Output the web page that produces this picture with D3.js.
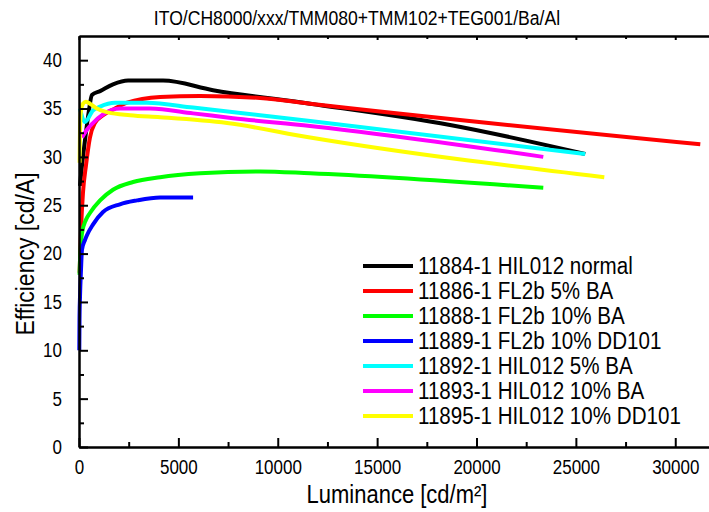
<!DOCTYPE html>
<html>
<head>
<meta charset="utf-8">
<script src="https://cdn.jsdelivr.net/npm/d3@7/dist/d3.min.js"></script>
<style>
  body { margin: 0; background: #fff; }
  text { font-family: "Liberation Sans", Arial, sans-serif; fill: #000; }
  /* the source picture has slightly tall lettering */
  .tall { transform-box: fill-box; transform-origin: center; transform: scaleY(1.15); }
</style>
</head>
<body>
<div id="chart"></div>
<script>
// luminance [cd/m2], efficiency [cd/A]
const s11884 = [[50, 27.0], [100, 28.1], [300, 31.7], [500, 34.8], [650, 36.4], [1060, 36.8], [1710, 37.5], [2470, 37.9],
  [4230, 37.9], [6745, 36.9], [11630, 35.5], [18670, 33.3], [25470, 30.3]];
const s11886 = [[30, 18.0], [100, 22.4], [200, 26.3], [350, 29.1], [550, 32.0], [800, 33.5], [1210, 34.3], [1810, 35.0],
  [2420, 35.6], [4080, 36.2], [6090, 36.3], [9110, 36.1], [11630, 35.5], [31260, 31.3]];
const s11888 = [[25, 17.8], [50, 19.3], [150, 22.1], [350, 23.5], [550, 24.2], [1060, 25.5], [1710, 26.6], [2720, 27.4],
  [4080, 27.9], [6090, 28.3], [9110, 28.5], [11630, 28.3], [23360, 26.8]];
const s11889 = [[15, 10.0], [25, 13.1], [50, 15.5], [100, 18.3], [150, 20.4], [300, 21.4], [400, 21.9], [700, 23.0],
  [1210, 24.3], [2060, 25.1], [2920, 25.5], [4080, 25.8], [5740, 25.8]];
const s11892 = [[50, 35.0], [150, 34.2], [300, 33.6], [700, 34.8], [1060, 35.2], [1810, 35.6], [3420, 35.6], [5740, 35.1],
  [9110, 34.3], [11630, 33.7], [25470, 30.3]];
const s11893 = [[150, 32.0], [400, 32.8], [700, 33.5], [1210, 34.4], [2060, 35.0], [3570, 35.0], [5740, 34.5], [7750, 34.0],
  [11630, 33.2], [23360, 30.0]];
const s11895 = [[30, 29.4], [50, 32.8], [100, 34.8], [200, 35.5], [350, 35.7], [550, 35.5], [900, 35.0], [1460, 34.6],
  [2570, 34.3], [4080, 34.1], [7450, 33.5], [11630, 32.0], [26430, 27.9]];

const seriesNames = ["11884-1 HIL012 normal", "11886-1 FL2b 5% BA", "11888-1 FL2b 10% BA", "11889-1 FL2b 10% DD101",
  "11892-1 HIL012 5% BA", "11893-1 HIL012 10% BA", "11895-1 HIL012 10% DD101"];
const seriesData = [s11884, s11886, s11888, s11889, s11892, s11893, s11895];
const seriesColors = ["#000000", "#ff0000", "#00ff00", "#0000ff", "#00ffff", "#ff00ff", "#ffff00"];

const xMajor = [0, 5000, 10000, 15000, 20000, 25000, 30000];
const yMajor = [0, 5, 10, 15, 20, 25, 30, 35, 40];

const title = "ITO/CH8000/xxx/TMM080+TMM102+TEG001/Ba/Al";
const xTitle = "Luminance [cd/m²]";
const yTitle = "Efficiency [cd/A]";

const width = 709, height = 512;
const plotLeft = 79, plotRight = 715, plotTop = 36, plotBottom = 447;

const svg = d3.select('#chart').append('svg')
  .attr('width', width)
  .attr('height', height);

const x = d3.scaleLinear().domain([0, 32000]).range([plotLeft, plotRight]);
const y = d3.scaleLinear().domain([0, 42.5]).range([plotBottom, plotTop]);

const xMinor = d3.range(0, 32001, 2500).filter(v => !xMajor.includes(v));
const yMinor = d3.range(0, 42.5, 2.5).filter(v => !yMajor.includes(v));

// curves
const line = d3.line()
  .x(d => x(d[0]))
  .y(d => y(d[1]))
  .curve(d3.curveMonotoneX);

svg.append('g')
  .selectAll('path')
  .data(seriesData)
  .enter().append('path')
  .attr('d', d => line(d))
  .attr('fill', 'none')
  .attr('stroke', (d, i) => seriesColors[i])
  .attr('stroke-width', 4)
  .attr('stroke-linejoin', 'round');

// axes (ticks drawn inside the frame)
const bottomAxis = svg.append('g').attr('transform', `translate(0,${plotBottom})`)
  .call(d3.axisBottom(x).tickValues(xMajor).tickSize(-9).tickSizeOuter(0).tickPadding(14).tickFormat(d3.format('d')));
bottomAxis.append('g')
  .call(d3.axisBottom(x).tickValues(xMinor).tickSize(-5).tickSizeOuter(0).tickFormat(''));

const leftAxis = svg.append('g').attr('transform', `translate(${plotLeft},0)`)
  .call(d3.axisLeft(y).tickValues(yMajor).tickSize(-9).tickSizeOuter(0).tickPadding(17));
leftAxis.append('g')
  .call(d3.axisLeft(y).tickValues(yMinor).tickSize(-5).tickSizeOuter(0).tickFormat(''));

const topAxis = svg.append('g').attr('transform', `translate(0,${plotTop})`)
  .call(d3.axisTop(x).tickValues(xMajor).tickSize(-4).tickSizeOuter(0).tickFormat(''));
topAxis.append('g')
  .call(d3.axisTop(x).tickValues(xMinor).tickSize(-3).tickSizeOuter(0).tickFormat(''));

svg.selectAll('.domain').attr('stroke', '#000').attr('stroke-width', 2);
svg.selectAll('.tick line').attr('stroke', '#000').attr('stroke-width', 2);
svg.selectAll('.tick text')
  .attr('class', 'tall')
  .style('font-family', '"Liberation Sans", Arial, sans-serif')
  .style('font-size', '17px')
  .attr('fill', '#000');

// titles
svg.append('text')
  .attr('class', 'tall')
  .attr('x', 357)
  .attr('y', 24)
  .attr('text-anchor', 'middle')
  .style('font-size', '17.6px')
  .text(title);

svg.append('text')
  .attr('class', 'tall')
  .attr('x', 397)
  .attr('y', 502)
  .attr('text-anchor', 'middle')
  .style('font-size', '22px')
  .text(xTitle);

svg.append('g')
  .attr('transform', 'translate(33,254) rotate(-90)')
  .append('text')
  .attr('class', 'tall')
  .attr('text-anchor', 'middle')
  .style('font-size', '23px')
  .text(yTitle);

// legend
const legend = svg.selectAll('.legend')
  .data(seriesNames)
  .enter().append('g')
  .attr('class', 'legend')
  .attr('transform', (d, i) => `translate(363,${266 + i * 25})`);

legend.append('line')
  .attr('x1', 0)
  .attr('x2', 50)
  .attr('stroke', (d, i) => seriesColors[i])
  .attr('stroke-width', 4);

legend.append('text')
  .attr('class', 'tall')
  .attr('x', 55)
  .attr('y', 7)
  .style('font-size', '20.6px')
  .text(d => d);
</script>
</body>
</html>
